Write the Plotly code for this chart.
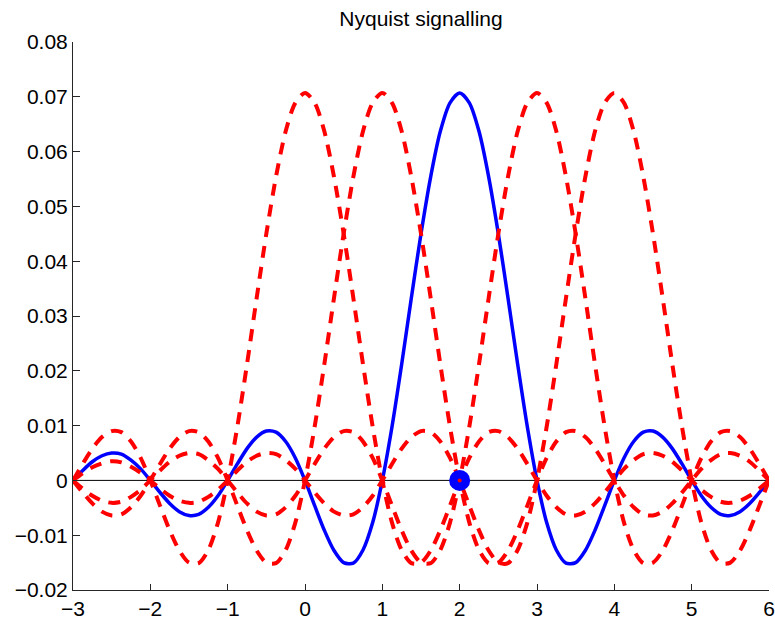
import plotly.graph_objects as go

# One Nyquist (sinc-shaped) pulse of peak 0.0707, sampled every 1/8 symbol
# period on one side of its centre (offset 0 ... 7); the pulse is symmetric.
pulse_step = 0.125
pulse_half = [
    0.0707, 0.0689, 0.0637, 0.0554, 0.0450, 0.0333, 0.0212, 0.0098,
    0.0, -0.0077, -0.0127, -0.0151, -0.0150, -0.0128, -0.0091, -0.0046,
    0.0, 0.0041, 0.0071, 0.0088, 0.0090, 0.0079, 0.0058, 0.0030,
    0.0, -0.0028, -0.0049, -0.0062, -0.0064, -0.0057, -0.0042, -0.0022,
    0.0, 0.0021, 0.0037, 0.0048, 0.0050, 0.0045, 0.0034, 0.0018,
    0.0, -0.0017, -0.0030, -0.0039, -0.0041, -0.0037, -0.0028, -0.0015,
    0.0, 0.0014, 0.0025, 0.0033, 0.0035, 0.0031, 0.0024, 0.0013,
    0.0,
]

# Symbol instants: neighbouring pulses (dashed red) and the pulse of interest
red_centres = [0, 1, 3, 4]
blue_centre = 2
sample_point = [2, 0]

x_min, x_max = -3, 6
x_ticks = [-3, -2, -1, 0, 1, 2, 3, 4, 5, 6]
y_min, y_max = -0.02, 0.08

# full two-sided pulse on its offset grid
pulse_vals = pulse_half[:0:-1] + pulse_half
n_half = len(pulse_half) - 1
pulse_offsets = [(i - n_half) * pulse_step for i in range(len(pulse_vals))]


def shifted(centre):
    xs, ys = [], []
    for off, v in zip(pulse_offsets, pulse_vals):
        x = centre + off
        if x_min - 1e-9 <= x <= x_max + 1e-9:
            xs.append(x)
            ys.append(v)
    return xs, ys


fig = go.Figure()

# zero reference line
fig.add_trace(go.Scatter(
    x=[x_min, x_max], y=[0, 0], mode="lines",
    line=dict(color="black", width=1), hoverinfo="skip", showlegend=False,
))

bx, by = shifted(blue_centre)
fig.add_trace(go.Scatter(
    x=bx, y=by, mode="lines",
    line=dict(color="#0000ff", width=3.5, shape="spline", smoothing=0.8),
    showlegend=False,
))

for c in red_centres:
    rx, ry = shifted(c)
    fig.add_trace(go.Scatter(
        x=rx, y=ry, mode="lines",
        line=dict(color="#ff0000", width=4, dash="12px,9px",
                  shape="spline", smoothing=0.8),
        showlegend=False,
    ))

# sampling instant of the pulse of interest
fig.add_trace(go.Scatter(
    x=[sample_point[0]], y=[sample_point[1]], mode="markers",
    marker=dict(color="#0000ff", size=21, line=dict(width=0)),
    showlegend=False,
))
fig.add_trace(go.Scatter(
    x=[sample_point[0]], y=[sample_point[1]], mode="markers",
    marker=dict(color="#ff0000", size=4, line=dict(width=0)),
    showlegend=False,
))

font_family = "Liberation Sans, Arial, Helvetica, sans-serif"

fig.update_layout(
    width=775, height=619,
    margin=dict(l=73, r=6, t=42, b=29, autoexpand=False),
    paper_bgcolor="white", plot_bgcolor="white",
    font=dict(family=font_family, size=21, color="black"),
    title=dict(text="Nyquist signalling", x=(73 + 769) / 2 / 775,
               xanchor="center", y=1 - 18.5 / 619, yanchor="middle",
               font=dict(family=font_family, size=21, color="black")),
)
fig.update_xaxes(
    range=[x_min, x_max], tickvals=x_ticks, automargin=False,
    ticks="inside", ticklen=6, tickwidth=1, tickcolor="#262626",
    showline=True, linecolor="#262626", linewidth=1,
    showgrid=False, zeroline=False, mirror=False,
)
fig.update_yaxes(
    range=[y_min, y_max], dtick=0.01, tick0=0, automargin=False,
    ticks="inside", ticklen=7, tickwidth=1, tickcolor="#262626",
    showline=True, linecolor="#262626", linewidth=1,
    showgrid=False, zeroline=False, mirror=False,
)

fig.write_html("out.html")
